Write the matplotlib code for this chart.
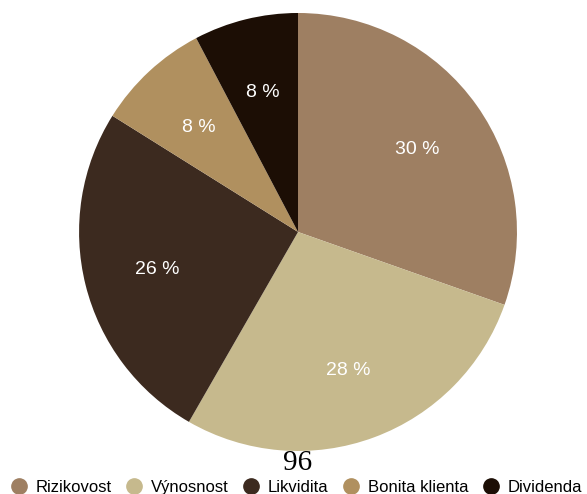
import matplotlib
matplotlib.use('Agg')
import matplotlib.pyplot as plt
from matplotlib.lines import Line2D

# data (shares)
labels = ['Rizikovost', 'Výnosnost', 'Likvidita', 'Bonita klienta', 'Dividenda']
values = [30.4, 27.9, 25.6, 8.4, 7.7]
colors = ['#9E7F62', '#C6B98D', '#3C2A1F', '#B0905F', '#1C0E05']
page_number = '96'

plt.rcParams['font.family'] = ['Liberation Sans', 'DejaVu Sans']

fig = plt.figure(figsize=(5.87, 4.94), dpi=100)
ax = fig.add_axes([0.5077 - 0.373, 0.5304 - 0.4433, 0.746, 0.8866])

wedges, texts, autotexts = ax.pie(values, colors=colors, startangle=90,
                                  counterclock=False, autopct='%.0f %%',
                                  pctdistance=0.665,
                                  wedgeprops={'linewidth': 0})
for t in autotexts:
     t.set_color('white')
     t.set_fontsize(14)
     t.set_va('center_baseline')
ax.set_aspect('auto')
ax.set_xlim(-1, 1)
ax.set_ylim(-1, 1)

# page number
fig.text(0.5077, 0.063, page_number, ha='center', va='center',
         fontsize=21, family='Liberation Serif', color='black')

# legend
handles = [Line2D([], [], marker='o', linestyle='', markersize=11,
                  markerfacecolor=c, markeredgecolor=c) for c in colors]
fig.legend(handles, labels, loc='center', bbox_to_anchor=(0.503, 0.013),
           ncol=5, frameon=False, fontsize=12, handletextpad=0.4,
           columnspacing=0.75, handlelength=1.2, borderpad=0)

fig.savefig('out.png', dpi=100)
